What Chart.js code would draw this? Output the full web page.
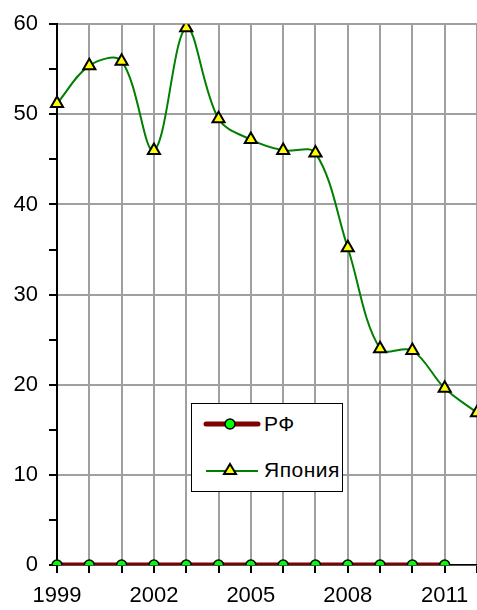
<!DOCTYPE html>
<html>
<head>
<meta charset="utf-8">
<script src="https://cdn.jsdelivr.net/npm/chart.js@4/dist/chart.umd.min.js"></script>
<style>
  body { margin: 0; background: #fff; }
  #wrap { position: relative; width: 477px; height: 610px; overflow: hidden; }
  #legend {
    position: absolute; left: 191px; top: 403px; width: 150px; height: 87px;
    border: 1.5px solid #000; background: #fff;
    font-family: "Liberation Sans", Arial, sans-serif; font-size: 21px; color: #000;
  }
  .row { position: absolute; left: 10px; display: flex; align-items: center; }
  .row svg { display: block; }
  .row span { margin-left: 2px; letter-spacing: 0.5px; }
</style>
</head>
<body>
<div id="wrap">
  <canvas id="chart" width="477" height="610"></canvas>
  <div id="legend"></div>
</div>
<script>
const years = ['1999', '2000', '2001', '2002', '2003', '2004', '2005', '2006', '2007', '2008', '2009', '2010', '2011', '2012'];
const rfValues = [0, 0, 0, 0, 0, 0, 0, 0, 0, 0, 0, 0, 0, null];
const japanValues = [51.2, 55.4, 55.9, 46, 59.6, 49.5, 47.2, 46, 45.7, 35.2, 24, 23.8, 19.6, 16.9];
const seriesNames = ['РФ', 'Япония'];

const font = { family: '"Liberation Sans", Arial, sans-serif', size: 22 };

const chart = document.querySelector('#chart').getContext('2d');

// main chart
new Chart(chart, {
    type: 'line',
    data: {
        labels: years,
        datasets: [
            {
                label: seriesNames[1],
                data: japanValues,
                borderColor: '#008000',
                borderWidth: 2,
                tension: 0.35,
                pointStyle: 'triangle',
                pointRadius: 7,
                pointBackgroundColor: '#ffff00',
                pointBorderColor: '#000',
                pointBorderWidth: 2
            },
            {
                label: seriesNames[0],
                data: rfValues,
                borderColor: '#800000',
                borderWidth: 5,
                tension: 0,
                pointStyle: 'circle',
                pointRadius: 5,
                pointBackgroundColor: '#00ff00',
                pointBorderColor: '#000',
                pointBorderWidth: 1.5
            }
        ]
    },
    options: {
        responsive: false,
        animation: false,
        // no auto padding, so 2012 sits on the right edge
        layout: { autoPadding: false, padding: { top: 23, right: 0, left: 0, bottom: 0 } },
        plugins: { legend: { display: false }, tooltip: { enabled: false } },
        scales: {
            x: {
                offset: false,
                grid: { color: '#a0a0a0', lineWidth: 2, tickColor: '#000', tickLength: 8, offset: false },
                border: { color: '#000', width: 1.5 },
                ticks: {
                    autoSkip: false, maxRotation: 0, padding: 10, color: '#000', font: font,
                    callback: (v, i) => (i % 3 === 0 && i < 13) ? years[i] : ''
                },
                afterFit: s => { s.height = 45; s.paddingRight = 0; s.paddingLeft = 0; }
            },
            y: {
                min: 0, max: 60,
                grid: {
                    color: c => (c.tick && c.tick.value % 10 === 0) ? '#a0a0a0' : 'rgba(0,0,0,0)',
                    lineWidth: 2, tickColor: '#000', tickLength: 8
                },
                border: { color: '#000', width: 2 },
                ticks: {
                    stepSize: 5, padding: 11, color: '#000', font: font,
                    callback: v => v % 10 === 0 ? v : ''
                },
                afterFit: s => { s.width = 57; }
            }
        }
    }
});

// legend inside the plot
const legend = document.querySelector('#legend');
legend.innerHTML =
    '<div class="row" style="top:8px">' +
    '<svg width="60" height="24"><line x1="4" y1="12" x2="56" y2="12" stroke="#800000" stroke-width="5" stroke-linecap="round"/>' +
    '<circle cx="28" cy="12" r="5" fill="#00ff00" stroke="#000" stroke-width="1.5"/></svg>' +
    '<span>' + seriesNames[0] + '</span></div>' +
    '<div class="row" style="top:54px">' +
    '<svg width="60" height="24"><line x1="4" y1="13" x2="56" y2="13" stroke="#008000" stroke-width="2"/>' +
    '<polygon points="28,6 34,16 22,16" fill="#ffff00" stroke="#000" stroke-width="2" stroke-linejoin="miter"/></svg>' +
    '<span>' + seriesNames[1] + '</span></div>';
</script>
</body>
</html>
